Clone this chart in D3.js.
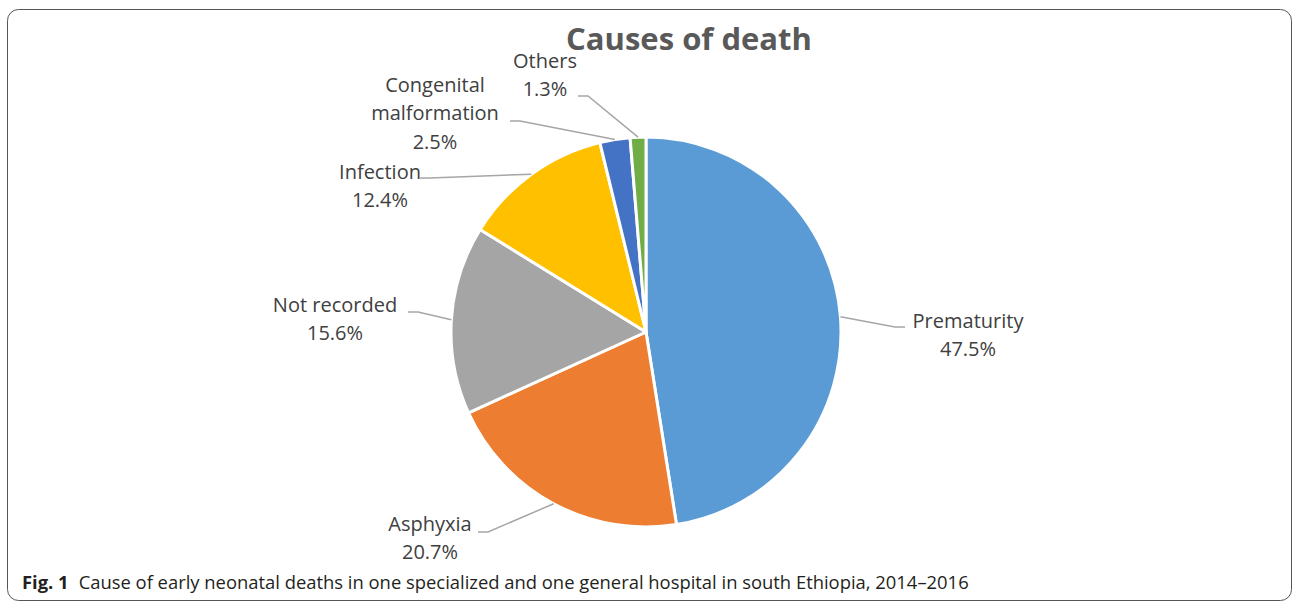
<!DOCTYPE html>
<meta charset="utf-8">
<style>
body { margin: 0; background: #fff; }
svg text { font-family: "Open Sans", "Noto Sans", sans-serif; }
</style>
<body>
<script src="https://cdn.jsdelivr.net/npm/d3@7"></script>
<script>

// data
var causes = ["Prematurity", "Asphyxia", "Not recorded", "Infection", "Congenital malformation", "Others"];
var percents = [47.5, 20.7, 15.6, 12.4, 2.5, 1.3];
var labelLines = [["Prematurity"], ["Asphyxia"], ["Not recorded"], ["Infection"], ["Congenital", "malformation"], ["Others"]];
var colours = ["#5b9bd5", "#ed7d31", "#a5a5a5", "#ffc000", "#4472c4", "#70ad47"];

// label layout (offsets from pie centre): text centre + leader elbow
var labelPos = {
  "Prematurity":             { tx: 322,  ty: 3,    ex: 249,  ey: -5,   side: 1 },
  "Asphyxia":                { tx: -216, ty: 206,  ex: -158, ey: 200,  side: -1 },
  "Not recorded":            { tx: -311, ty: -13,  ex: -228, ey: -20,  side: -1 },
  "Infection":               { tx: -266, ty: -146, ex: -216, ey: -154, side: -1 },
  "Congenital malformation": { tx: -211, ty: -219, ex: -126, ey: -211, side: -1 },
  "Others":                  { tx: -101, ty: -257, ex: -58,  ey: -236, side: -1 }
};

var W = 1292, H = 603;
var cx = 646, cy = 332, radius = 195;

var svg = d3.select("body").append("svg")
  .attr("width", W)
  .attr("height", H);

// frame
svg.append("rect")
  .attr("x", 7.5).attr("y", 9.5)
  .attr("width", 1284).attr("height", 591)
  .attr("rx", 11)
  .attr("fill", "none")
  .attr("stroke", "#555")
  .attr("stroke-width", 1);

// title
svg.append("text")
  .attr("x", 689)
  .attr("y", 50)
  .attr("text-anchor", "middle")
  .style("font-size", "31px")
  .style("font-weight", "bold")
  .style("fill", "#595959")
  .text("Causes of death");

var data = causes.map(function(c, i) {
  return { name: c, value: percents[i], lines: labelLines[i], colour: colours[i] };
});

var pie = d3.pie()
  .sort(null)
  .value(function(d) { return d.value; });

var arc = d3.arc()
  .innerRadius(0)
  .outerRadius(radius);

var g = svg.append("g")
  .attr("transform", "translate(" + cx + "," + cy + ")");

var arcs = pie(data);

g.selectAll("path.slice")
  .data(arcs)
  .enter().append("path")
  .attr("class", "slice")
  .attr("d", arc)
  .attr("fill", function(d) { return d.data.colour; })
  .attr("stroke", "#fff")
  .attr("stroke-width", 3)
  .attr("stroke-linejoin", "round");

// leader lines
g.selectAll("polyline.leader")
  .data(arcs)
  .enter().append("polyline")
  .attr("class", "leader")
  .attr("fill", "none")
  .attr("stroke", "#a6a6a6")
  .attr("stroke-width", 1.5)
  .attr("points", function(d) {
    var a = (d.startAngle + d.endAngle) / 2;
    var p0 = [radius * Math.sin(a), -radius * Math.cos(a)];
    var lp = labelPos[d.data.name];
    var p1 = [lp.ex, lp.ey];
    var p2 = [lp.ex + lp.side * 10, lp.ey];
    return [p0, p1, p2].map(function(p) { return p.join(","); }).join(" ");
  });

// labels
var lineH = 28.5;
var labels = g.selectAll("text.lbl")
  .data(arcs)
  .enter().append("text")
  .attr("class", "lbl")
  .attr("text-anchor", "middle")
  .style("font-size", "20px")
  .style("fill", "#404040");

labels.each(function(d) {
  var lp = labelPos[d.data.name];
  var rows = d.data.lines.concat([d3.format(".1f")(d.data.value) + "%"]);
  var top = lp.ty - (rows.length - 1) * lineH / 2;
  var t = d3.select(this);
  rows.forEach(function(r, i) {
    t.append("tspan")
      .attr("x", lp.tx)
      .attr("y", top + i * lineH)
      .attr("dy", "0.35em")
      .text(r);
  });
});

// caption
var cap = svg.append("text")
  .attr("x", 22)
  .attr("y", 589)
  .style("font-size", "18.4px")
  .style("fill", "#231f20");
cap.append("tspan").style("font-weight", "bold").text("Fig. 1");
cap.append("tspan").attr("dx", 10).text("Cause of early neonatal deaths in one specialized and one general hospital in south Ethiopia, 2014\u20132016");

</script>
</body>
